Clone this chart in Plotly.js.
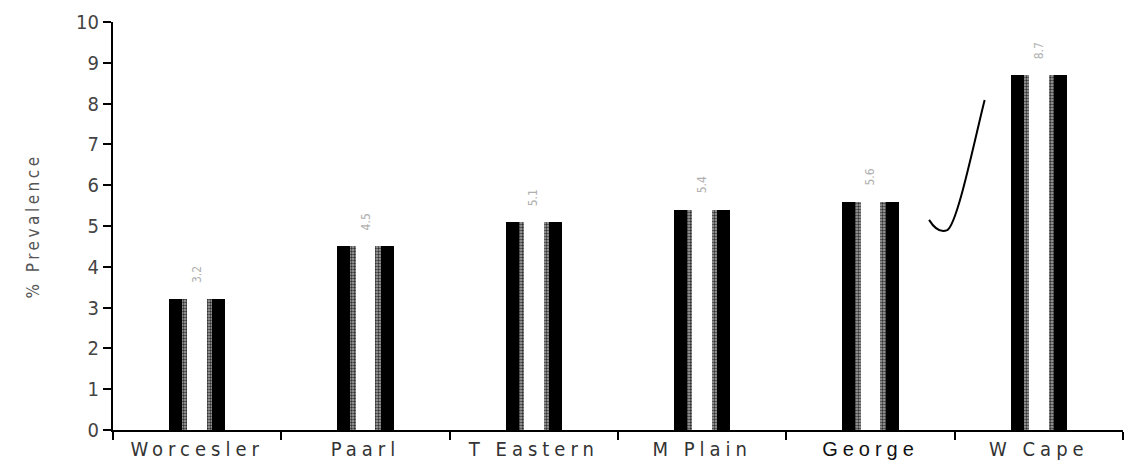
<!DOCTYPE html>
<html>
<head>
<meta charset="utf-8">
<script src="https://cdn.plot.ly/plotly-3.0.1.min.js"></script>
<style>
  html, body { margin: 0; padding: 0; background: #fff; }
  #chart { width: 1125px; height: 465px; }
  .xtick text { letter-spacing: 5px; font-stretch: condensed; }
  .ytick text { font-stretch: condensed; }
  .ytitle { letter-spacing: 3.5px; }
</style>
</head>
<body>
<div id="chart"></div>
<script>
// Prevalence by region
const regions = ["Worcesler", "Paarl", "T Eastern", "M Plain", "George", "W Cape"];
const prevalence = [3.2, 4.5, 5.1, 5.4, 5.6, 8.7];
const yTicks = [0, 1, 2, 3, 4, 5, 6, 7, 8, 9, 10];

const labelFont = "'DejaVu Sans Condensed', 'Liberation Sans Narrow', sans-serif";

// George is set in a heavier, plain face on the category axis
const tickText = regions.map(r => r === "George"
  ? "<span style='font-family:Liberation Sans, Arial, sans-serif;color:#111'>" + r + "</span>"
  : r);

// Each bar is drawn as stacked overlays: dark body, stippled edges, light core
const body = {
  type: "bar", x: regions, y: prevalence, width: 0.333,
  marker: { color: "#000", line: { width: 0 } },
  hoverinfo: "skip"
};
const edge = {
  type: "bar", x: regions, y: prevalence, width: 0.18,
  marker: {
    color: "#888", line: { width: 0 },
    pattern: { shape: ".", fgcolor: "#333", bgcolor: "#a8a8a8", size: 3, solidity: 0.5 }
  },
  hoverinfo: "skip"
};
const core = {
  type: "bar", x: regions, y: prevalence, width: 0.118,
  marker: { color: "#fff", line: { width: 0 } },
  hoverinfo: "skip"
};

// Value labels, set vertically above each bar
const valueLabels = regions.map((r, i) => ({
  x: r, y: prevalence[i], xref: "x", yref: "y",
  text: prevalence[i].toFixed(1), showarrow: false,
  textangle: -90, yanchor: "bottom", yshift: 14,
  font: { family: labelFont, size: 12, color: "#b0b0b0" }
}));

const layout = {
  width: 1125, height: 465,
  margin: { l: 113, r: 2, t: 22, b: 35 },
  paper_bgcolor: "#fff", plot_bgcolor: "#fff",
  showlegend: false,
  barmode: "overlay",
  bargap: 0,
  xaxis: {
    type: "category",
    tickvals: regions, ticktext: tickText,
    tickson: "boundaries",
    ticks: "outside", ticklen: 8, tickwidth: 2, tickcolor: "#000",
    showline: true, linecolor: "#000", linewidth: 2,
    showgrid: false, zeroline: false,
    range: [-0.5, 5.5],
    tickfont: { family: labelFont, size: 20, color: "#333" }
  },
  yaxis: {
    range: [0, 10],
    tickvals: yTicks,
    ticks: "outside", ticklen: 8, tickwidth: 2, tickcolor: "#000",
    showline: true, linecolor: "#000", linewidth: 2,
    showgrid: false, zeroline: false,
    tickfont: { family: labelFont, size: 20, color: "#444" },
    title: { text: "% Prevalence", standoff: 32, font: { family: labelFont, size: 17, color: "#555" } }
  },
  annotations: valueLabels,
  shapes: [{
    // hand-drawn stroke between George and W Cape
    type: "path", xref: "paper", yref: "paper",
    path: "M 0.808,0.515 C 0.813,0.495 0.819,0.483 0.826,0.490 C 0.836,0.505 0.852,0.700 0.863,0.809",
    line: { color: "#000", width: 2 }
  }]
};

Plotly.newPlot("chart", [body, edge, core], layout, { displayModeBar: false, staticPlot: true });
</script>
</body>
</html>
